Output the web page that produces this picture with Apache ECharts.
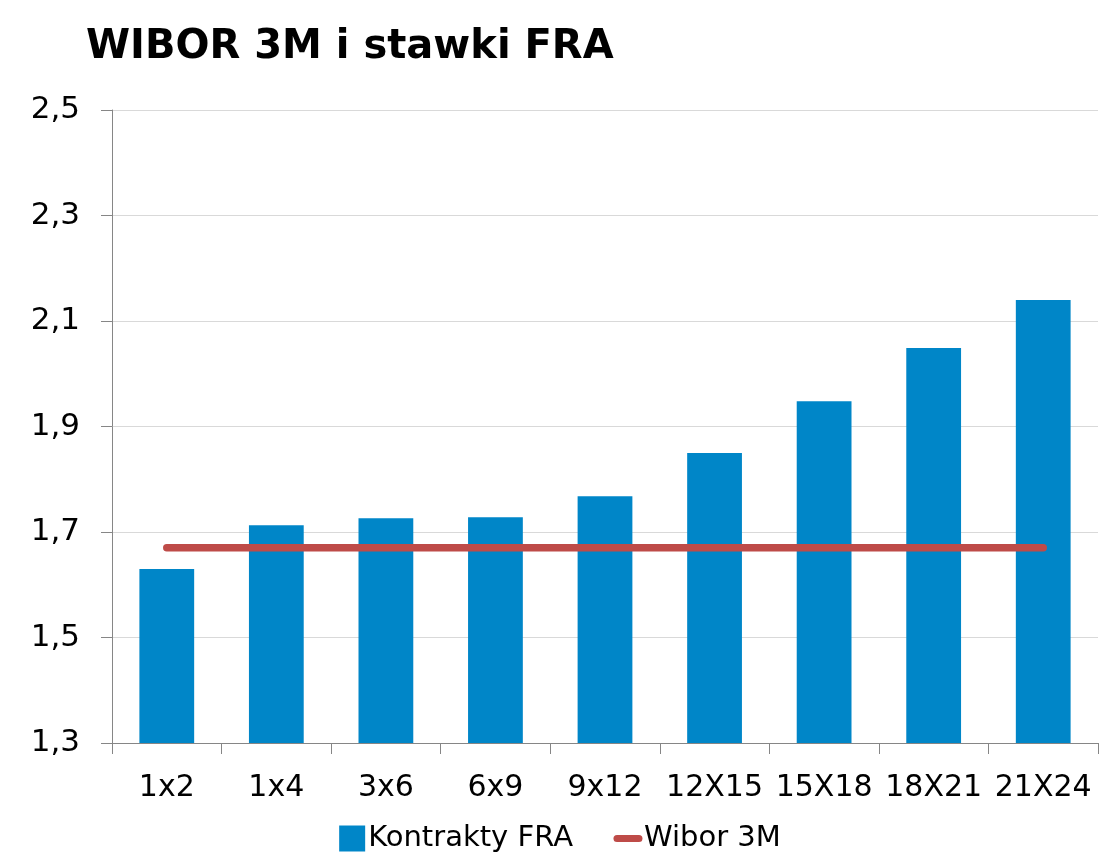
<!DOCTYPE html>
<html>
<head>
<meta charset="utf-8">
<script src="https://cdn.jsdelivr.net/npm/echarts@6/dist/echarts.min.js"></script>
<style>
html,body{margin:0;padding:0;background:#fff;}
#chart{width:1118px;height:864px;}
</style>
</head>
<body>
<div id="chart"></div>
<script>
var categories = ['1x2', '1x4', '3x6', '6x9', '9x12', '12X15', '15X18', '18X21', '21X24'];
var fraValues = [1.63, 1.713, 1.726, 1.728, 1.768, 1.85, 1.948, 2.049, 2.14];
var wiborValues = [1.67, 1.67, 1.67, 1.67, 1.67, 1.67, 1.67, 1.67, 1.67];
var seriesNames = ['Kontrakty FRA', 'Wibor 3M'];
var titleText = 'WIBOR 3M i stawki FRA';

var chart = echarts.init(document.getElementById('chart'), null, {renderer: 'canvas'});
var font = 'DejaVu Sans';
var option = {
  animation: false,
  backgroundColor: '#ffffff',
  title: {
    text: titleText,
    left: 81,
    top: 23,
    textStyle: {fontFamily: font, fontWeight: 'bold', fontSize: 40, color: '#000'}
  },
  grid: {left: 112, right: 20, top: 110, bottom: 121},
  legend: {
    left: 'center',
    top: 819,
    itemWidth: 30,
    itemHeight: 26,
    itemGap: 40,
    textStyle: {fontFamily: font, fontSize: 29, color: '#000', padding: [0, 0, 0, -4]},
    data: [
      {name: seriesNames[0], icon: 'path://M0,0 M30,26 M2,0 L28,0 L28,26 L2,26 Z'},
      {name: seriesNames[1], icon: 'path://M0,0 M30,26 M4,9.5 L26,9.5 A3.5,3.5 0 0 1 26,16.5 L4,16.5 A3.5,3.5 0 0 1 4,9.5 Z'}
    ]
  },
  xAxis: {
    type: 'category',
    data: categories,
    boundaryGap: true,
    axisLine: {lineStyle: {color: '#868686', width: 1}},
    axisTick: {show: true, length: 11, lineStyle: {color: '#868686'}},
    axisLabel: {fontFamily: font, fontSize: 30, color: '#000', margin: 30, interval: 0}
  },
  yAxis: {
    type: 'value',
    min: 1.3,
    max: 2.5,
    interval: 0.2,
    axisLine: {show: true, lineStyle: {color: '#868686', width: 1}},
    axisTick: {show: true, length: 11, lineStyle: {color: '#868686'}},
    splitLine: {lineStyle: {color: '#d9d9d9', width: 1}},
    axisLabel: {
      fontFamily: font, fontSize: 31, color: '#000', margin: 32,
      verticalAlign: 'middle', padding: [4, 0, 0, 0],
      formatter: function (v) { return v.toFixed(1).replace('.', ','); }
    }
  },
  series: [
    {
      name: seriesNames[0],
      type: 'bar',
      data: fraValues,
      barWidth: '50%',
      itemStyle: {color: '#0086C8'},
      z: 2
    },
    {
      name: seriesNames[1],
      type: 'line',
      data: wiborValues,
      symbol: 'none',
      showSymbol: false,
      itemStyle: {color: '#BE4B48'},
      lineStyle: {color: '#BE4B48', width: 7.5, cap: 'round'},
      z: 3
    }
  ]
};
chart.setOption(option);
</script>
</body>
</html>
